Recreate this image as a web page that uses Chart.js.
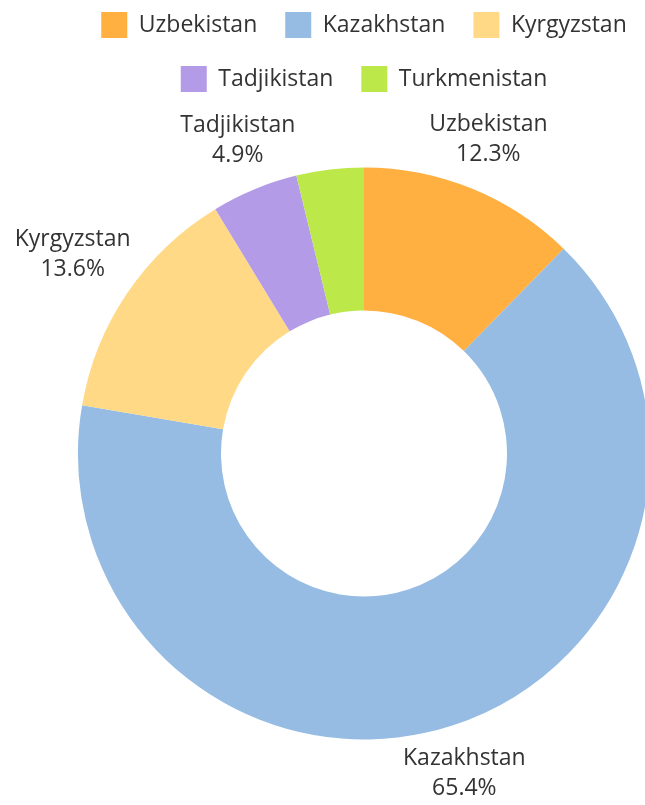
<!DOCTYPE html>
<html><head><meta charset="utf-8">
<script src="https://cdn.jsdelivr.net/npm/chart.js@4"></script>
<style>
html,body{margin:0;padding:0;overflow:hidden;background:#fff;width:645px;height:805px}
#wrap{position:absolute;left:0;top:0;width:728px;height:805px}
</style></head><body>
<div id="wrap"><canvas id="c" width="728" height="805"></canvas></div>
<script>
const categories = ['Uzbekistan', 'Kazakhstan', 'Kyrgyzstan', 'Tadjikistan', 'Turkmenistan'];
const shares = [12.3, 65.4, 13.6, 4.9, 3.8];
const colors = ['#FFB040', '#96BCE3', '#FFD985', '#B49BE8', '#BDE849'];
const minLabelShare = 4;

const FONT = "'Open Sans', 'Noto Sans', sans-serif";

const outerLabels = {
  id: 'outerLabels',
  afterDatasetsDraw(chart) {
    const ctx = chart.ctx;
    const meta = chart.getDatasetMeta(0);
    const data = chart.data.datasets[0].data;
    ctx.save();
    ctx.font = '23px ' + FONT;
    ctx.fillStyle = '#333333';
    ctx.textAlign = 'center';
    ctx.textBaseline = 'middle';
    const lh = 30;
    const gap = 3;
    meta.data.forEach((arc, i) => {
      if (data[i] < minLabelShare) return;
      const p = arc.getProps(['x', 'y', 'startAngle', 'endAngle', 'outerRadius'], true);
      const mid = (p.startAngle + p.endAngle) / 2;
      const c = Math.cos(mid), s = Math.sin(mid);
      const lines = [chart.data.labels[i], data[i].toFixed(1) + '%'];
      const w = Math.max(...lines.map(t => ctx.measureText(t).width));
      const h = lines.length * lh;
      const dist = p.outerRadius + gap + Math.abs(c) * w / 2 + Math.abs(s) * h / 2;
      const cx = p.x + dist * c - 4 * s * s * Math.sign(c);
      const cy = p.y + dist * s;
      lines.forEach((t, k) => {
        ctx.fillText(t, cx, cy - h / 2 + lh / 2 + k * lh);
      });
    });
    ctx.restore();
  }
};

new Chart(document.getElementById('c'), {
  type: 'doughnut',
  data: {
    labels: categories,
    datasets: [{
      data: shares,
      backgroundColor: colors,
      borderWidth: 0
    }]
  },
  options: {
    responsive: false,
    animation: false,
    radius: 286,
    cutout: '50%',
    layout: { padding: { top: -16, left: 0, right: 0, bottom: 0 } },
    plugins: {
      tooltip: { enabled: false },
      legend: {
        position: 'top',
        labels: {
          boxWidth: 26,
          boxHeight: 26,
          padding: 28,
          color: '#333333',
          font: { family: FONT, size: 23 }
        }
      }
    }
  },
  plugins: [outerLabels]
});
</script>
</body></html>
